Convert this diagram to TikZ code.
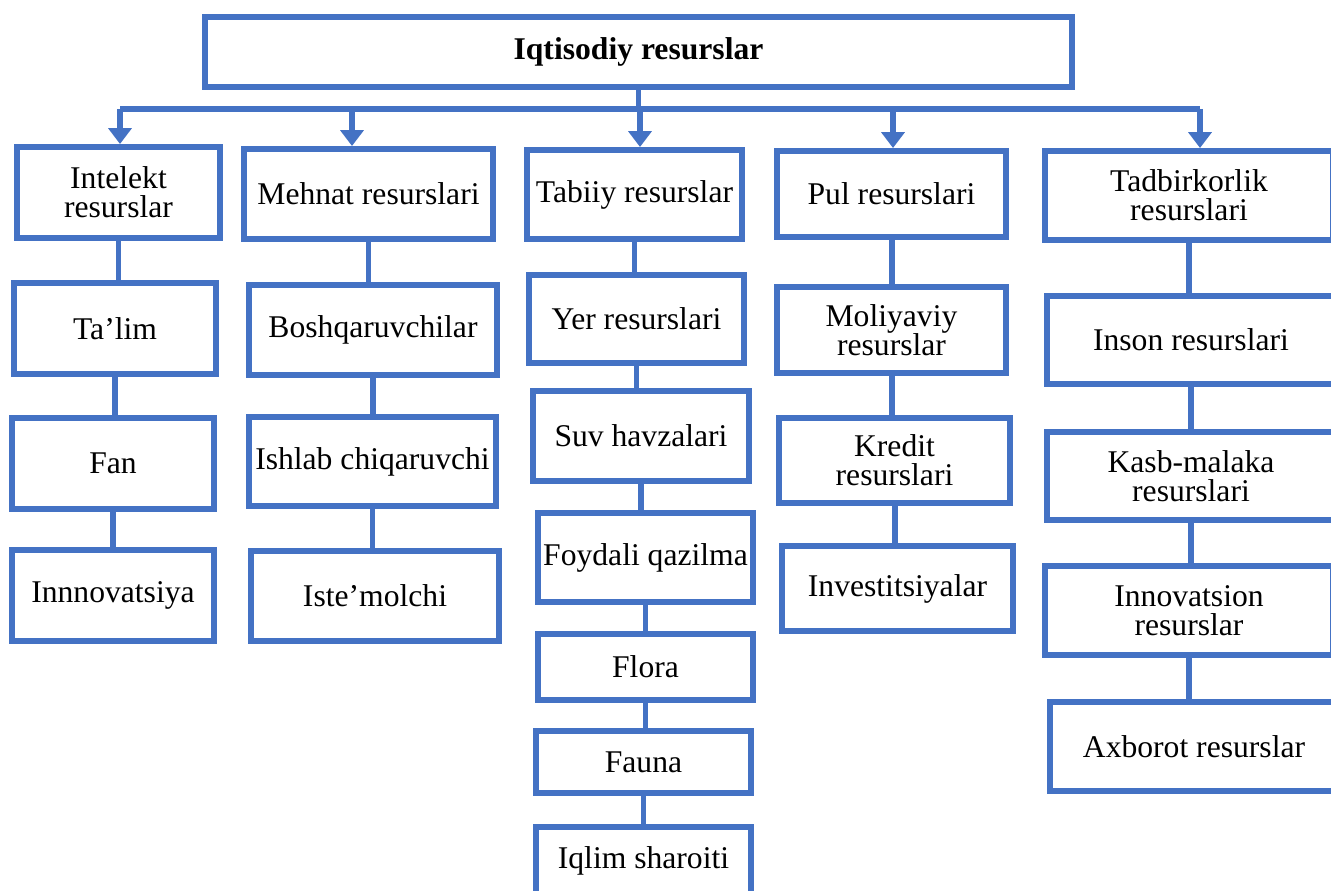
\documentclass[tikz,border=0pt]{standalone}
\usepackage{fontspec}
\setmainfont{Liberation Serif}
\usepackage{xcolor}
\usepackage{tikz}
\usetikzlibrary{arrows.meta,positioning,calc}

\definecolor{boxblue}{RGB}{68,114,196}

\begin{document}
\begin{tikzpicture}[x=0.02cm,y=-0.02cm,>={Triangle[width=13pt,length=9pt]},
                    line width=3.4pt,
                    box/.style={draw=boxblue,rectangle,align=center,inner sep=1pt,
                                font=\fontsize{18}{16.5}\selectfont},
                    wh/.style 2 args={minimum width=#1*0.02cm,minimum height=#2*0.02cm},
                    link/.style={draw=boxblue}]
  \useasboundingbox (0,0) rectangle (1331,891);

  \node[box,wh={867}{70},font=\fontsize{18}{16.5}\selectfont\bfseries] (top) at (638.5,52) {Iqtisodiy resurslar};

  % Intelekt
  \node[box,wh={203}{91}] (i0) at (118.5,192.5) {Intelekt\\resurslar};
  \node[box,wh={202}{91}] (i1) at (115,328.5)   {Ta’lim};
  \node[box,wh={202}{91}] (i2) at (113,463.5)   {Fan};
  \node[box,wh={202}{91}] (i3) at (113,595.5)   {Innnovatsiya};

  % Mehnat
  \node[box,wh={249}{90}] (m0) at (368.5,194)   {Mehnat resurslari};
  \node[box,wh={248}{90}] (m1) at (373,330)     {Boshqaruvchilar};
  \node[box,wh={247}{89}] (m2) at (372.5,461.5) {Ishlab chiqaruvchi};
  \node[box,wh={248}{90}] (m3) at (375,596)     {Iste’molchi};

  % Tabiiy
  \node[box,wh={215}{89}] (t0) at (634.5,194.5) {Tabiiy resurslar};
  \node[box,wh={215}{88}] (t1) at (636.5,319)   {Yer resurslari};
  \node[box,wh={216}{90}] (t2) at (641,436)     {Suv havzalari};
  \node[box,wh={215}{89}] (t3) at (645.5,557.5) {Foydali qazilma};
  \node[box,wh={215}{66}] (t4) at (645.5,667)   {Flora};
  \node[box,wh={215}{62}] (t5) at (643.5,762)   {Fauna};
  \node[box,wh={215}{68}] (t6) at (643.5,861)   {Iqlim sharoiti};

  % Pul
  \node[box,wh={229}{86}] (p0) at (891.5,194)   {Pul resurslari};
  \node[box,wh={229}{86}] (p1) at (891.5,330)   {Moliyaviy\\resurslar};
  \node[box,wh={231}{85}] (p2) at (894.5,460.5) {Kredit\\resurslari};
  \node[box,wh={231}{85}] (p3) at (897.5,588.5) {Investitsiyalar};

  % Tadbirkorlik
  \node[box,wh={288}{89}] (d0) at (1189,195.5)  {Tadbirkorlik\\resurslari};
  \node[box,wh={288}{88}] (d1) at (1191,340)    {Inson resurslari};
  \node[box,wh={288}{88}] (d2) at (1191,476)    {Kasb-malaka\\resurslari};
  \node[box,wh={288}{89}] (d3) at (1189,610.5)  {Innovatsion\\resurslar};
  \node[box,wh={288}{89}] (d4) at (1194,746.5)  {Axborot resurslar};

  % bus
  \coordinate (a1) at (120,109);
  \coordinate (a2) at (352,109);
  \coordinate (a3) at (640,109);
  \coordinate (a4) at (893,109);
  \coordinate (a5) at (1200,109);

  \draw[link] (top) -- (top |- a3);
  \draw[link] (a1) -- (a5);
  \draw[link,->] (a1) -- (a1 |- i0.north);
  \draw[link,->] (a2) -- (a2 |- m0.north);
  \draw[link,->] (a3) -- (a3 |- t0.north);
  \draw[link,->] (a4) -- (a4 |- p0.north);
  \draw[link,->] (a5) -- (a5 |- d0.north);

  \path[link]
        (i0) edge (i0 |- i1.north)
        (i1) edge (i1 |- i2.north)
        (i2) edge (i2 |- i3.north)
        (m0) edge (m0 |- m1.north)
        (m1) edge (m1 |- m2.north)
        (m2) edge (m2 |- m3.north)
        (t0) edge (t0 |- t1.north)
        (t1) edge (t1 |- t2.north)
        (t2) edge (t2 |- t3.north)
        (t3) edge (t3 |- t4.north)
        (t4) edge (t4 |- t5.north)
        (t5) edge (t5 |- t6.north)
        (p0) edge (p0 |- p1.north)
        (p1) edge (p1 |- p2.north)
        (p2) edge (p2 |- p3.north)
        (d0) edge (d0 |- d1.north)
        (d1) edge (d1 |- d2.north)
        (d2) edge (d2 |- d3.north)
        (d3) edge (d3 |- d4.north);
\end{tikzpicture}
\end{document}
